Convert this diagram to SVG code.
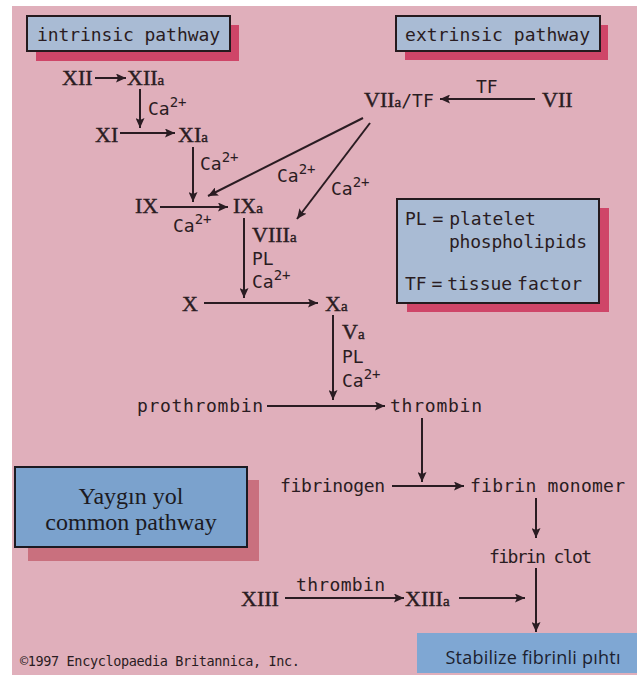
<svg xmlns="http://www.w3.org/2000/svg" width="637" height="677" viewBox="0 0 637 677">
<defs>
<style>
.bg{fill:#e0afbb}
.lbl{fill:#a9bbd4;stroke:#241a1e;stroke-width:2}
.shd{fill:#cf4568}
.s{font-family:"DejaVu Sans Mono","Liberation Mono",monospace;font-size:18px;fill:#2a1c22}
.r{font-family:"Liberation Serif","Times New Roman",serif;font-size:22px;fill:#2a1c22;stroke:#2a1c22;stroke-width:0.4}
.sub{font-size:15px}
.sup{font-size:14px}
.c{stroke:#2a1c22;stroke-width:2;fill:none;marker-end:url(#ah)}
</style>
<marker id="ah" markerUnits="userSpaceOnUse" markerWidth="11" markerHeight="9" refX="10" refY="4.5" orient="auto">
<path d="M0,0 L10,4.5 L0,9 L2,4.5 z" fill="#2a1c22"/>
</marker>
</defs>
<rect x="12" y="6" width="625" height="669" class="bg"/>

<g id="intrinsic">
<rect x="36" y="25" width="203" height="36" class="shd"/>
<rect x="27" y="16" width="203" height="35" class="lbl"/>
<text x="37" y="41" class="s" textLength="183">intrinsic pathway</text>
</g>
<g id="extrinsic">
<rect x="405" y="25" width="203" height="35" class="shd"/>
<rect x="396" y="16" width="204" height="35" class="lbl"/>
<text x="405" y="41" class="s" textLength="185">extrinsic pathway</text>
</g>
<g id="legend">
<rect x="407" y="208" width="202" height="104" class="shd"/>
<rect x="397" y="199" width="202" height="104" class="lbl"/>
<text x="405" y="225" class="s" style="word-spacing:-5px">PL = platelet</text>
<text x="449" y="248" class="s" textLength="138">phospholipids</text>
<text x="405" y="290" class="s" style="word-spacing:-6px">TF = tissue factor</text>
</g>
<g id="common">
<rect x="28" y="480" width="231" height="81" fill="#c9707e"/>
<rect x="15" y="467" width="232" height="80" fill="#7ba2cd" stroke="#1c1a22" stroke-width="2"/>
<text x="131" y="504" font-family="'Liberation Serif',serif" font-size="24" fill="#1c1a22" text-anchor="middle">Yaygın yol</text>
<text x="131" y="530" font-family="'Liberation Serif',serif" font-size="24" fill="#1c1a22" text-anchor="middle">common pathway</text>
</g>
<g id="stabilize">
<rect x="417" y="633" width="220" height="40" fill="#7fa7d3"/>
<text x="533" y="664" font-family="'Open Sans','Noto Sans',sans-serif" font-size="18" fill="#1c2230" text-anchor="middle" textLength="175">Stabilize fibrinli pıhtı</text>
</g>

<g id="XII"><text x="62" y="85" class="r">XII</text></g>
<g id="XIIa"><text x="127" y="85" class="r">XII<tspan class="sub">a</tspan></text></g>
<g id="XI"><text x="95" y="142" class="r">XI</text></g>
<g id="XIa"><text x="178" y="142" class="r">XI<tspan class="sub">a</tspan></text></g>
<g id="IX"><text x="135" y="213" class="r">IX</text></g>
<g id="IXa"><text x="233" y="213" class="r">IX<tspan class="sub">a</tspan></text></g>
<g id="VIIaTF"><text x="364" y="107" class="r">VII<tspan class="sub">a</tspan><tspan font-family="'DejaVu Sans Mono',monospace" font-size="18" stroke-width="0">/TF</tspan></text></g>
<g id="VII"><text x="542" y="107" class="r">VII</text></g>
<g id="X"><text x="182" y="311" class="r">X</text></g>
<g id="Xa"><text x="325" y="311" class="r">X<tspan class="sub">a</tspan></text></g>
<g id="prothrombin"><text x="137" y="412" class="s" textLength="126">prothrombin</text></g>
<g id="thrombin"><text x="390" y="412" class="s" textLength="92">thrombin</text></g>
<g id="fibrinogen"><text x="280" y="492" class="s" textLength="105">fibrinogen</text></g>
<g id="fibrinmonomer"><text x="470" y="492" class="s" textLength="155">fibrin monomer</text></g>
<g id="fibrinclot"><text x="489" y="563" class="s" textLength="103">fibrin clot</text></g>
<g id="XIII"><text x="241" y="606" class="r">XIII</text></g>
<g id="XIIIa"><text x="405" y="606" class="r">XIII<tspan class="sub">a</tspan></text></g>

<g id="connectors">
<path class="c" d="M95,78 H126"/>
<path class="c" d="M140,89 V128"/>
<path class="c" d="M120,133 H175"/>
<path class="c" d="M193,147 V202"/>
<path class="c" d="M160,207 H228"/>
<path class="c" d="M363,118 L208,196"/>
<path class="c" d="M370,123 L297,219"/>
<path class="c" d="M535,99 H440"/>
<path class="c" d="M244,218 V298"/>
<path class="c" d="M204,303 H318"/>
<path class="c" d="M333,315 V400"/>
<path class="c" d="M267,406 H385"/>
<path class="c" d="M422,418 V482"/>
<path class="c" d="M392,486 H464"/>
<path class="c" d="M536,498 V538"/>
<path class="c" d="M536,568 V632"/>
<path class="c" d="M285,598 H404"/>
<path class="c" d="M459,598 H525"/>
</g>

<g id="labels">
<text x="148" y="115" class="s">Ca<tspan class="sup" dy="-8">2+</tspan></text>
<text x="200" y="170" class="s">Ca<tspan class="sup" dy="-8">2+</tspan></text>
<text x="173" y="232" class="s">Ca<tspan class="sup" dy="-8">2+</tspan></text>
<text x="277" y="182" class="s">Ca<tspan class="sup" dy="-8">2+</tspan></text>
<text x="331" y="195" class="s">Ca<tspan class="sup" dy="-8">2+</tspan></text>
<text x="476" y="93" class="s">TF</text>
<text x="252" y="242" class="r">VIII<tspan class="sub">a</tspan></text>
<text x="252" y="265" class="s">PL</text>
<text x="252" y="288" class="s">Ca<tspan class="sup" dy="-8">2+</tspan></text>
<text x="342" y="339" class="r">V<tspan class="sub">a</tspan></text>
<text x="342" y="363" class="s">PL</text>
<text x="342" y="387" class="s">Ca<tspan class="sup" dy="-8">2+</tspan></text>
<text x="296" y="591" class="s" textLength="89">thrombin</text>
<text x="20" y="666" class="s" style="font-size:13.5px" textLength="280">©1997 Encyclopaedia Britannica, Inc.</text>
</g>
</svg>
